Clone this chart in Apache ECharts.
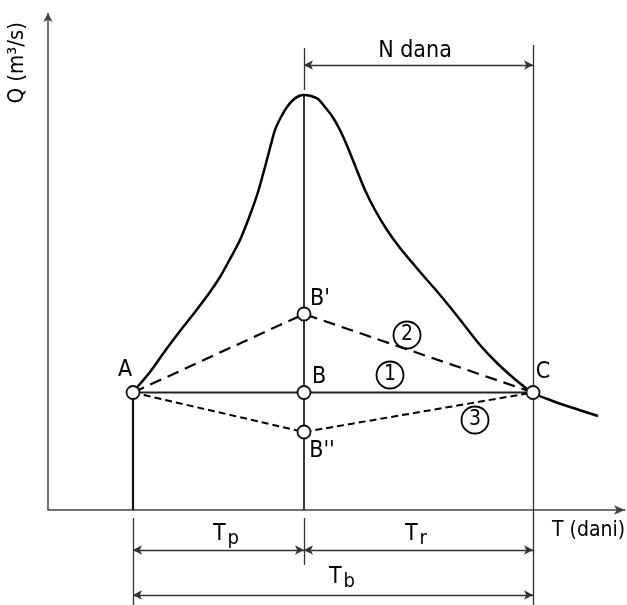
<!DOCTYPE html>
<html>
<head>
<meta charset="utf-8">
<script src="https://cdn.jsdelivr.net/npm/echarts@6/dist/echarts.min.js"></script>
<style>html,body{margin:0;padding:0;background:#fff}#c{width:627px;height:605px}</style>
</head>
<body>
<div id="c"></div>
<script>
// Hydrograph (time in day units, discharge in arbitrary units)
const hydroT = [8.5, 10.2, 11.7, 13.2, 14.7, 16.2, 17.2, 18.2, 19.2, 20.2, 21.0, 21.7, 22.2, 22.7, 23.3, 23.9, 24.5, 25.1, 25.6,
                26.3, 27.0, 27.7, 28.4, 29.2, 30.0, 30.8, 31.7, 32.7, 33.9, 35.2, 36.7, 37.9, 38.7, 40.2, 41.7, 43.2, 44.7, 46.2, 47.4, 48.5, 50.2, 52.2, 55.0];
const hydroQ = [23.6, 27.6, 31.8, 35.8, 39.6, 43.6, 46.6, 50.2, 54.0, 59.0, 63.6, 68.6, 72.4, 76.0, 78.6, 80.6, 82.0, 82.8, 83.0,
                82.8, 82.2, 80.6, 78.8, 76.0, 72.4, 68.4, 64.0, 60.0, 56.0, 52.4, 48.8, 46.0, 44.2, 40.6, 36.8, 33.0, 29.8, 27.0, 25.0, 23.4, 22.0, 20.6, 18.8];

// Key points
const pointNames = ["A", "B", "B'", "B''", "C"];
const pointT = [8.5, 25.6, 25.6, 25.6, 48.5];
const pointQ = [23.5, 23.5, 39.2, 15.6, 23.5];

// Text annotations
const labelText = ["A", "B'", "B", "B''", "C", "N dana", "{t|T}{s|p}", "{t|T}{s|r}", "{t|T}{s|b}"];
const labelT = [7.7, 27.2, 27.1, 27.4, 49.5, 36.7, 17.8, 36.8, 29.4];
const labelQ = [28.0, 42.2, 26.6, 11.8, 27.6, 91.8, -4.8, -4.8, -13.4];
const xName = "T (dani)";
const xNameT = 50.4;
const xNameQ = -4.2;
const yName = "Q (m³/s)";

// Circled separation line numbers
const lineNums = ["1", "2", "3"];
const lineNumT = [34.2, 35.9, 42.7];
const lineNumQ = [27.0, 35.0, 18.0];

// Dimension levels
const nDanaQ = 89;
const tpQ = -8;
const tbQ = -17;

const P = i => [pointT[i], pointQ[i]];
const chart = echarts.init(document.getElementById('c'));

const FONT = '"DejaVu Sans Condensed", "Liberation Sans Narrow", "DejaVu Sans", sans-serif';
const black = '#000';
function seg(a, b, style, sym) {
  return [
    {coord: a, symbol: sym ? sym[0] : 'none'},
    {coord: b, symbol: sym ? sym[1] : 'none', lineStyle: style}
  ];
}
const thin = {color: '#333', width: 1.3, type: 'solid'};
const thick = {color: '#111', width: 2.2, type: 'solid'};

const straight = [
  // y axis
  seg([0, 0], [0, 99.4], {color: '#444', width: 1.5, type: 'solid'}, ['none', 'arrow']),
  // vertical at A
  seg([pointT[0], 0], P(0), thick),
  seg([pointT[0], -1.6], [pointT[0], -19], thin),
  // vertical at peak / B
  seg([pointT[1], 0], [pointT[1], 83], {color: '#222', width: 1.8, type: 'solid'}),
  seg([pointT[1], 84], [pointT[1], 92.4], thin),
  seg([pointT[1], -1.6], [pointT[1], -11], thin),
  // vertical at C
  seg([pointT[4], -19], [pointT[4], 93], thin),
  // dimension lines
  seg([pointT[1], nDanaQ], [pointT[4], nDanaQ], thin, ['arrow', 'arrow']),
  seg([pointT[0], tpQ], [pointT[1], tpQ], thin, ['arrow', 'arrow']),
  seg([pointT[1], tpQ], [pointT[4], tpQ], thin, ['arrow', 'arrow']),
  seg([pointT[0], tbQ], [pointT[4], tbQ], thin, ['arrow', 'arrow'])
];

const labelItems = labelT.map((t, i) => ({value: [t, labelQ[i]], name: labelText[i]}));
labelItems.push({value: [xNameT, xNameQ], name: xName,
  label: {position: 'right', distance: 0, fontSize: 21}});

chart.setOption({
  animation: false,
  backgroundColor: '#fff',
  grid: {left: 48, right: 2, top: 10, bottom: 0, containLabel: false},
  xAxis: {
    type: 'value', min: 0, max: 57.7,
    axisLine: {show: true, onZero: true, symbol: ['none', 'arrow'], symbolSize: [7, 11],
      lineStyle: {color: '#444', width: 1.5}},
    axisTick: {show: false}, axisLabel: {show: false}, splitLine: {show: false}
  },
  yAxis: {
    type: 'value', min: -19, max: 100,
    axisLine: {show: false}, axisTick: {show: false}, axisLabel: {show: false}, splitLine: {show: false}
  },
  graphic: [{
    type: 'text', left: 6, top: 22, rotation: Math.PI / 2,
    style: {text: yName, font: '22px ' + FONT, fill: black}
  }],
  series: [
    {
      type: 'line', name: 'hydrograph',
      data: hydroT.map((t, i) => [t, hydroQ[i]]),
      smooth: 0.3, showSymbol: false, z: 3,
      lineStyle: {color: black, width: 2.5},
      markLine: {silent: true, symbolSize: [7, 9], label: {show: false}, lineStyle: thin, data: straight, animation: false}
    },
    {
      type: 'line', name: '1', data: [P(0), P(1), P(4)], showSymbol: false, z: 2,
      lineStyle: {color: '#222', width: 1.8}
    },
    {
      type: 'line', name: '2', data: [P(0), P(2), P(4)], showSymbol: false, z: 2,
      lineStyle: {color: black, width: 2.2, type: [12, 7]}
    },
    {
      type: 'line', name: '3', data: [P(0), P(3), P(4)], showSymbol: false, z: 2,
      lineStyle: {color: black, width: 2, type: [7, 4]}
    },
    {
      type: 'scatter', name: 'points', z: 5,
      data: pointT.map((t, i) => [t, pointQ[i]]),
      symbol: 'circle', symbolSize: 13,
      itemStyle: {color: '#fff', borderColor: '#111', borderWidth: 1.8, opacity: 1}
    },
    {
      type: 'scatter', name: 'nums', z: 5,
      data: lineNumT.map((t, i) => ({value: [t, lineNumQ[i]], name: lineNums[i]})),
      symbol: 'circle', symbolSize: 27,
      itemStyle: {color: 'rgba(255,255,255,0)', borderColor: black, borderWidth: 1.8, opacity: 1},
      label: {show: true, position: 'inside', formatter: p => p.name, color: black,
        fontFamily: FONT, fontSize: 21}
    },
    {
      type: 'scatter', name: 'labels', z: 6, symbolSize: 0,
      itemStyle: {opacity: 1},
      data: labelItems,
      label: {
        show: true, position: 'inside', color: black,
        fontFamily: FONT, fontSize: 23,
        formatter: p => p.name,
        rich: {
          t: {fontFamily: FONT, fontSize: 23, color: black},
          s: {fontFamily: FONT, fontSize: 20, color: black, padding: [10, 0, 0, 2]}
        }
      }
    }
  ]
});
</script>
</body>
</html>
